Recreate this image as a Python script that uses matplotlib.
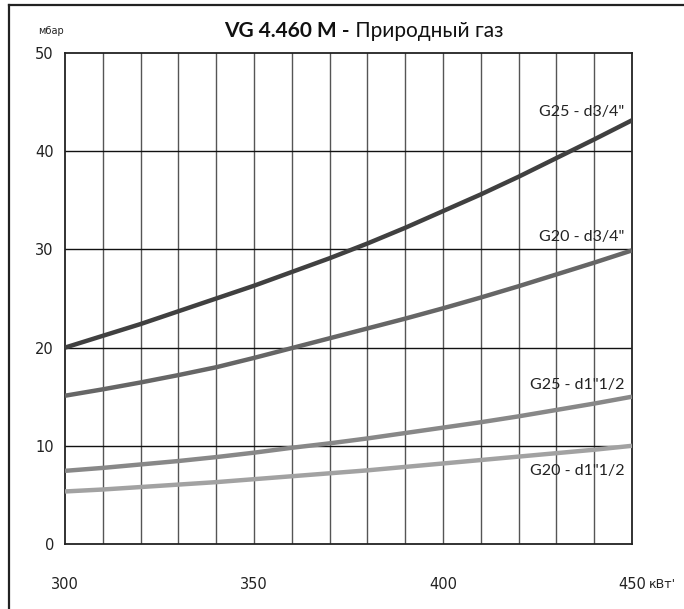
import matplotlib
matplotlib.use("Agg")
import matplotlib.pyplot as plt
from matplotlib.lines import Line2D

# ---- data ----
power_kw = [300, 310, 320, 330, 340, 350, 360, 370, 380, 390, 400, 410, 420, 430, 440, 450]
g25_d34 = [20.0, 21.2, 22.4, 23.7, 25.0, 26.3, 27.7, 29.1, 30.6, 32.2, 33.9, 35.6, 37.4, 39.3, 41.2, 43.15]
g20_d34 = [15.1, 15.75, 16.45, 17.2, 18.0, 18.95, 19.95, 20.95, 21.95, 22.95, 24.0, 25.1, 26.25, 27.45, 28.65, 29.9]
g25_d112 = [7.45, 7.75, 8.1, 8.45, 8.85, 9.3, 9.8, 10.25, 10.75, 11.3, 11.85, 12.4, 13.0, 13.65, 14.3, 15.0]
g20_d112 = [5.35, 5.55, 5.8, 6.05, 6.3, 6.6, 6.9, 7.2, 7.5, 7.85, 8.2, 8.55, 8.9, 9.25, 9.6, 10.0]
series_labels = ['G25 - d3/4"', 'G20 - d3/4"', 'G25 - d1"1/2', 'G20 - d1"1/2']
x_ticks = [300, 350, 400, 450]
y_ticks = [0, 10, 20, 30, 40, 50]
title_bold = "VG 4.460 M -"
title_rest = " Природный газ"
y_unit = "мбар"
x_unit = "кВт'"

series = [g25_d34, g20_d34, g25_d112, g20_d112]
colors = ["#404040", "#666666", "#888888", "#a2a2a2"]
label_offsets_px = [8, 13, 12, -25]

W, H = 684, 609
fig = plt.figure(figsize=(W / 100, H / 100), dpi=100)
ax = fig.add_axes([65 / W, 1 - 544 / H, (632 - 65) / W, (544 - 53) / H])

ax.set_xlim(300, 450)
ax.set_ylim(0, 50)

# grid
for xv in range(310, 450, 10):
    ax.axvline(xv, color="#555555", lw=1.0, zorder=1)
for yv in range(10, 50, 10):
    ax.axhline(yv, color="#111111", lw=1.0, zorder=1)

for vals, c in zip(series, colors):
    ax.plot(power_kw, vals, color=c, lw=3.2, solid_capstyle="butt",
            solid_joinstyle="round", zorder=3)

for vals, lab, off in zip(series, series_labels, label_offsets_px):
    ax.annotate(lab, xy=(448, vals[-1]), xytext=(0, off * 0.72), textcoords="offset points",
                ha="right", va="center", fontsize=11.5, family="Lato", color="#222222", zorder=4)

for s in ax.spines.values():
    s.set_color("#222222")
    s.set_linewidth(1.3)

ax.set_xticks(x_ticks)
ax.set_yticks(y_ticks)
ax.tick_params(length=0, labelsize=10.5, colors="#222222")
ax.tick_params(axis="x", pad=24)
ax.tick_params(axis="y", pad=8)
for t in ax.get_xticklabels() + ax.get_yticklabels():
    t.set_family("DejaVu Sans")

# unit labels
fig.text(649 / W, 1 - 584 / H, x_unit, ha="left", va="center", fontsize=9,
         family="DejaVu Sans", color="#222222")
fig.text(51 / W, 1 - 31 / H, y_unit, ha="center", va="center", fontsize=7,
         family="DejaVu Sans", color="#222222")

# title (bold part + regular part)
t1 = fig.text(224 / W, 1 - 31 / H, title_bold, ha="left", va="center", fontsize=15,
              family="Lato", fontweight="bold", color="#111111")
fig.canvas.draw()
bb = t1.get_window_extent()
fig.text(bb.x1 / W, 1 - 31 / H, title_rest, ha="left", va="center", fontsize=15,
         family="Lato", color="#111111")

# outer frame (left + top only)
fig.add_artist(Line2D([8.5 / W, 8.5 / W], [0, 1 - 4.5 / H], transform=fig.transFigure,
                      color="#222222", lw=1.6))
fig.add_artist(Line2D([8.5 / W, 1], [1 - 4.5 / H, 1 - 4.5 / H], transform=fig.transFigure,
                      color="#222222", lw=1.6))

fig.savefig("out.png", dpi=100)
